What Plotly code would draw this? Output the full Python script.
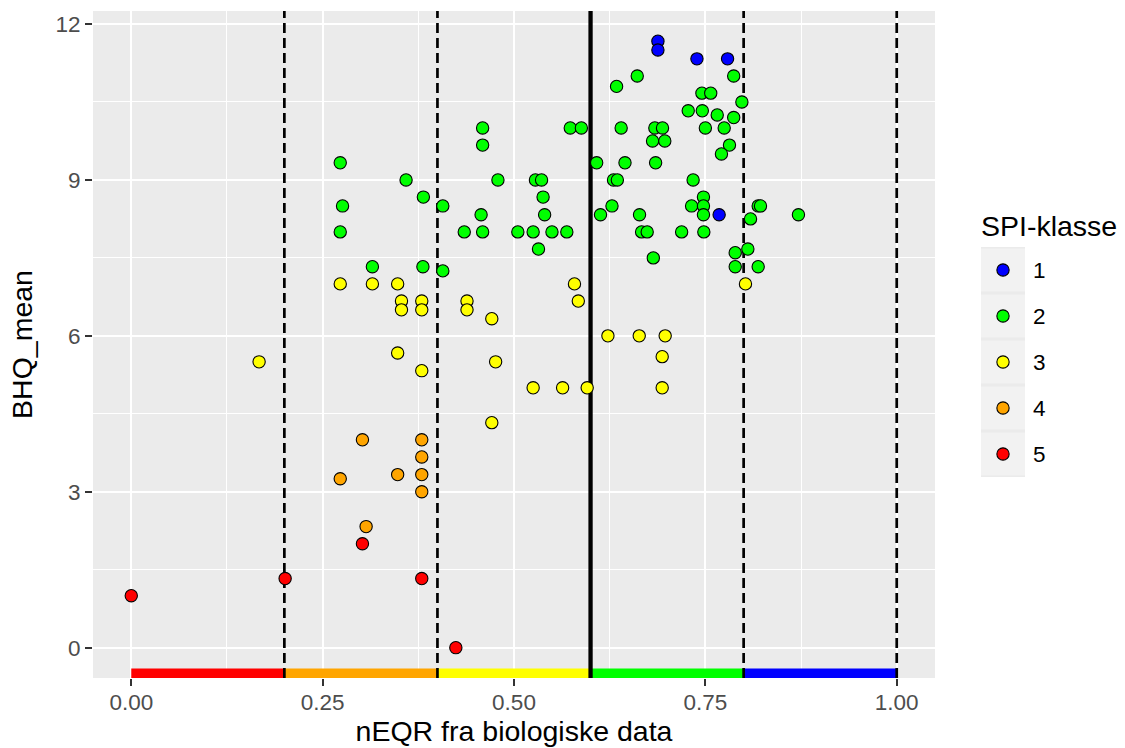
import plotly.graph_objects as go

# ---------------- data ----------------
classes = ["1", "2", "3", "4", "5"]
class_colors = ["#0000FF", "#00FF00", "#FFFF00", "#FFA500", "#FF0000"]

x_k1 = [0.688, 0.688, 0.739, 0.779, 0.768]
y_k1 = [11.67, 11.5, 11.33, 11.33, 8.33]

x_k2 = [0.273, 0.359, 0.3816, 0.407, 0.276, 0.273, 0.459, 0.459, 0.479, 0.457,
        0.435, 0.459, 0.505, 0.525, 0.528, 0.536, 0.538, 0.540, 0.532, 0.315,
        0.381, 0.407, 0.5496, 0.569, 0.661, 0.787, 0.634, 0.7455, 0.757, 0.7977,
        0.7276, 0.746, 0.7655, 0.787, 0.5735, 0.588, 0.640, 0.684, 0.694, 0.750,
        0.7746, 0.681, 0.697, 0.7815, 0.771, 0.608, 0.645, 0.685, 0.630, 0.635,
        0.734, 0.628, 0.613, 0.664, 0.7475, 0.732, 0.7475, 0.7475, 0.819, 0.822,
        0.809, 0.8716, 0.6667, 0.674, 0.719, 0.748, 0.682, 0.789, 0.8055, 0.789,
        0.819]
y_k2 = [9.33, 9.0, 8.67, 8.5, 8.5, 8.0, 10.0, 9.67, 9.0, 8.33,
        8.0, 8.0, 8.0, 8.0, 9.0, 9.0, 8.67, 8.33, 7.67, 7.33,
        7.33, 7.25, 8.0, 8.0, 11.0, 11.0, 10.8, 10.67, 10.67, 10.5,
        10.33, 10.33, 10.25, 10.2, 10.0, 10.0, 10.0, 10.0, 10.0, 10.0,
        10.0, 9.75, 9.75, 9.67, 9.5, 9.33, 9.33, 9.33, 9.0, 9.0,
        9.0, 8.5, 8.33, 8.33, 8.67, 8.5, 8.5, 8.33, 8.5, 8.5,
        8.25, 8.33, 8.0, 8.0, 8.0, 8.0, 7.5, 7.6, 7.67, 7.33,
        7.33]

x_k3 = [0.273, 0.315, 0.348, 0.353, 0.353, 0.3795, 0.3795, 0.4386, 0.4386, 0.471,
        0.167, 0.348, 0.3795, 0.476, 0.525, 0.471, 0.579, 0.584, 0.8024, 0.6227,
        0.6636, 0.6975, 0.6936, 0.6936, 0.5635, 0.5956]
y_k3 = [7.0, 7.0, 7.0, 6.67, 6.5, 6.67, 6.5, 6.67, 6.5, 6.33,
        5.5, 5.67, 5.33, 5.5, 5.0, 4.33, 7.0, 6.67, 7.0, 6.0,
        6.0, 6.0, 5.6, 5.0, 5.0, 5.0]

x_k4 = [0.302, 0.3795, 0.3795, 0.348, 0.3795, 0.273, 0.3795, 0.3068]
y_k4 = [4.0, 4.0, 3.67, 3.33, 3.33, 3.25, 3.0, 2.33]

x_k5 = [0.302, 0.201, 0.3795, 0.0, 0.424]
y_k5 = [2.0, 1.33, 1.33, 1.0, 0.0]

class_x = [x_k1, x_k2, x_k3, x_k4, x_k5]
class_y = [y_k1, y_k2, y_k3, y_k4, y_k5]

band_edges = [0.0, 0.2, 0.4, 0.6, 0.8, 1.0]
band_colors = ["#FF0000", "#FFA500", "#FFFF00", "#00FF00", "#0000FF"]
band_y = -0.5
dashed_at = [0.2, 0.4, 0.8, 1.0]
solid_at = [0.6]

x_ticks = [0.0, 0.25, 0.5, 0.75, 1.0]
x_tick_labels = ["0.00", "0.25", "0.50", "0.75", "1.00"]
y_ticks = [0, 3, 6, 9, 12]
y_tick_labels = ["0", "3", "6", "9", "12"]

x_title = "nEQR fra biologiske data"
y_title = "BHQ_mean"
legend_title = "SPI-klasse"

X_RANGE = [-0.05, 1.05]
Y_RANGE = [-0.5835, 12.2505]

FONT = "Liberation Sans, Arial, sans-serif"
TICK_FONT = 22.5
TITLE_FONT = 28.5

W, H = 1125, 748
ML, MR, MT, MB = 93, 0, 11, 70
PW = W - ML - MR
PH = H - MT - MB


def px_x(p):
    return (p - ML) / PW


def px_y(p):
    return (H - MB - p) / PH


fig = go.Figure()

# colour band along the bottom
for i, col in enumerate(band_colors):
    fig.add_trace(go.Scatter(
        x=[band_edges[i], band_edges[i + 1]], y=[band_y, band_y],
        mode="lines", line=dict(color=col, width=10.5),
        showlegend=False, hoverinfo="skip", xaxis="x", yaxis="y"))

# vertical reference lines
for xv in dashed_at:
    fig.add_trace(go.Scatter(
        x=[xv, xv], y=Y_RANGE, mode="lines",
        line=dict(color="black", width=2.7, dash="10px,5px"),
        showlegend=False, hoverinfo="skip", xaxis="x", yaxis="y"))
for xv in solid_at:
    fig.add_trace(go.Scatter(
        x=[xv, xv], y=Y_RANGE, mode="lines",
        line=dict(color="black", width=4.3),
        showlegend=False, hoverinfo="skip", xaxis="x", yaxis="y"))

# points
for name, col, xs, ys in zip(classes, class_colors, class_x, class_y):
    fig.add_trace(go.Scatter(
        x=xs, y=ys, mode="markers", name=name,
        marker=dict(size=12.3, color=col, line=dict(color="black", width=1.1)),
        showlegend=False, xaxis="x", yaxis="y"))

# custom legend (keys on auxiliary axes)
key_pos = list(range(1, len(classes) + 1))
fig.add_trace(go.Scatter(
    x=[0] * len(classes), y=key_pos, mode="markers",
    marker=dict(size=12.3, color=class_colors, line=dict(color="black", width=1.1)),
    showlegend=False, hoverinfo="skip", xaxis="x2", yaxis="y2"))

shapes = []
for k in key_pos:
    shapes.append(dict(type="rect", xref="x2", yref="y2", x0=-0.5, x1=0.5,
                       y0=k - 0.468, y1=k + 0.468, fillcolor="#F2F2F2",
                       line=dict(width=0), layer="below"))

KEY_TOP = 247
KEY_PITCH = 46
annotations = []
for k, name in zip(key_pos, classes):
    cy = KEY_TOP + KEY_PITCH * (k - 0.5)
    annotations.append(dict(xref="paper", yref="paper", x=px_x(1031), y=px_y(cy), text=name,
                            showarrow=False, xanchor="left", yanchor="middle",
                            font=dict(family=FONT, size=TICK_FONT, color="black")))
annotations.append(dict(xref="paper", yref="paper", x=px_x(979), y=px_y(226), text=legend_title,
                        showarrow=False, xanchor="left", yanchor="middle",
                        font=dict(family=FONT, size=TITLE_FONT, color="black")))

fig.update_layout(
    width=W, height=H,
    margin=dict(l=ML, r=MR, t=MT, b=MB, pad=0),
    paper_bgcolor="white", plot_bgcolor="#EBEBEB",
    font=dict(family=FONT, size=TICK_FONT, color="#4D4D4D"),
    showlegend=False,
    shapes=shapes, annotations=annotations,
    xaxis=dict(
        domain=[0, px_x(935)], range=X_RANGE, anchor="y",
        tickvals=x_ticks, ticktext=x_tick_labels,
        ticks="outside", ticklen=7, tickwidth=2.2, tickcolor="#333333",
        ticklabelstandoff=-3,
        tickfont=dict(family=FONT, size=TICK_FONT, color="#4D4D4D"),
        showgrid=True, gridcolor="white", gridwidth=2.4,
        minor=dict(dtick=0.125, tick0=0, showgrid=True, gridcolor="white", gridwidth=1.2, ticks=""),
        zeroline=False, showline=False, automargin=False,
        title=dict(text=x_title, font=dict(family=FONT, size=TITLE_FONT, color="black"), standoff=5),
    ),
    yaxis=dict(
        domain=[0, 1], range=Y_RANGE, anchor="x",
        tickvals=y_ticks, ticktext=y_tick_labels,
        ticks="outside", ticklen=7, tickwidth=2.2, tickcolor="#333333",
        tickfont=dict(family=FONT, size=TICK_FONT, color="#4D4D4D"),
        showgrid=True, gridcolor="white", gridwidth=2.4,
        minor=dict(dtick=1.5, tick0=0, showgrid=True, gridcolor="white", gridwidth=1.2, ticks=""),
        zeroline=False, showline=False, automargin=False,
        title=dict(text=y_title, font=dict(family=FONT, size=TITLE_FONT, color="black"), standoff=14),
    ),
    xaxis2=dict(domain=[px_x(981), px_x(1025)], range=[-0.5, 0.5], anchor="y2",
                visible=False, fixedrange=True),
    yaxis2=dict(domain=[px_y(KEY_TOP + KEY_PITCH * 5), px_y(KEY_TOP)], range=[5.5, 0.5], anchor="x2",
                visible=False, fixedrange=True),
)

fig.write_html("out.html", config={"displayModeBar": False},
               post_script="document.body.style.margin='0';document.body.style.padding='0';")
